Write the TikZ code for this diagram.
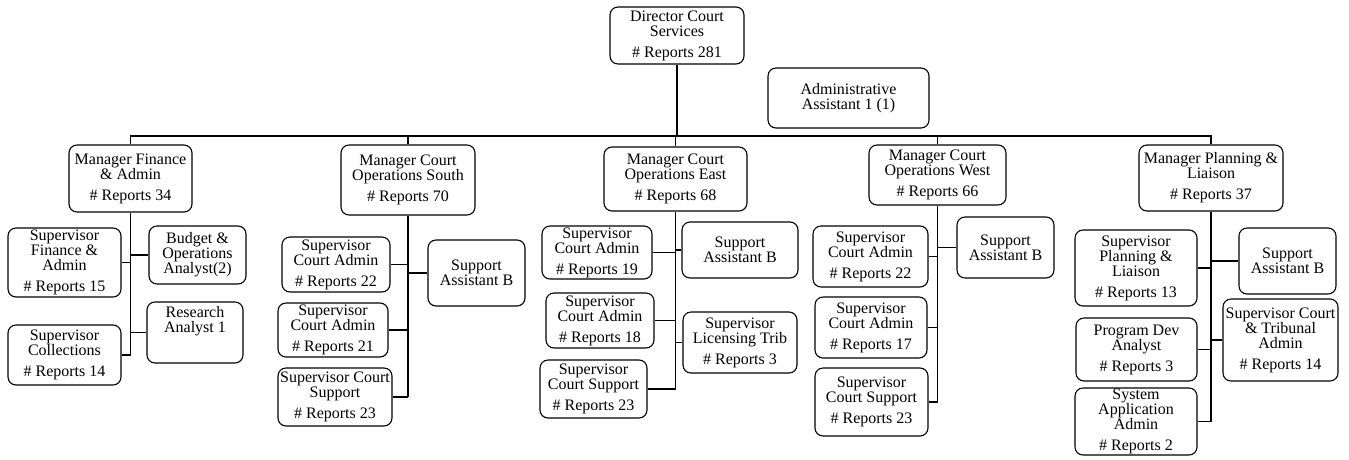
\documentclass[tikz,border=0pt]{standalone}
\usepackage{fontspec}
\setmainfont{Liberation Serif}
\tikzset{
  posbox/.style={draw, rounded corners=8pt, line width=1.1pt, align=center, inner sep=0pt,
    font=\fontsize{16}{15}\selectfont},
  link/.style={line width=1.1pt}
}

\begin{document}
\begin{tikzpicture}[x=1pt, y=-1pt]
\useasboundingbox (0,0) rectangle (1349,459);
\node[posbox, minimum width=134pt, minimum height=57pt] (dir) at (677,35.5) {Director Court\\Services\\[6pt]\# Reports 281};
\node[posbox, minimum width=161pt, minimum height=60pt] (adm) at (848.5,98) {Administrative\\Assistant 1 (1)};

\node[posbox, minimum width=123pt, minimum height=67pt] (mfin) at (130.5,178.5) {Manager Finance\\\& Admin\\[6pt]\# Reports 34};
\node[posbox, minimum width=113pt, minimum height=69pt] (fin1) at (64.5,262.5) {Supervisor\\Finance \&\\Admin\\[6pt]\# Reports 15};
\node[posbox, minimum width=113pt, minimum height=60pt] (fin2) at (64.5,355) {Supervisor\\Collections\\[6pt]\# Reports 14};
\node[posbox, minimum width=97pt, minimum height=58pt] (fin3) at (197.5,255) {Budget \&\\Operations\\Analyst(2)};
\node[posbox, minimum width=96pt, minimum height=61pt] (fin4) at (195,332.5) {Research\\Analyst 1\\[6pt]\strut};

\node[posbox, minimum width=134pt, minimum height=70pt] (msou) at (408,180) {Manager Court\\Operations South\\[6pt]\# Reports 70};
\node[posbox, minimum width=108pt, minimum height=55pt] (sou1) at (336,264.5) {Supervisor\\Court Admin\\[6pt]\# Reports 22};
\node[posbox, minimum width=110pt, minimum height=54pt] (sou2) at (333,330) {Supervisor\\Court Admin\\[6pt]\# Reports 21};
\node[posbox, minimum width=114pt, minimum height=58pt] (sou3) at (335,397) {Supervisor Court\\Support\\[6pt]\# Reports 23};
\node[posbox, minimum width=97pt, minimum height=66pt] (sou4) at (476.5,273) {Support\\Assistant B};

\node[posbox, minimum width=143pt, minimum height=64pt] (meas) at (675.5,179) {Manager Court\\Operations East\\[6pt]\# Reports 68};
\node[posbox, minimum width=110pt, minimum height=53pt] (eas1) at (597,252.5) {Supervisor\\Court Admin\\[6pt]\# Reports 19};
\node[posbox, minimum width=108pt, minimum height=55pt] (eas2) at (600,320.5) {Supervisor\\Court Admin\\[6pt]\# Reports 18};
\node[posbox, minimum width=107pt, minimum height=58pt] (eas3) at (593.5,389) {Supervisor\\Court Support\\[6pt]\# Reports 23};
\node[posbox, minimum width=116pt, minimum height=56pt] (eas4) at (740,250) {Support\\Assistant B};
\node[posbox, minimum width=114pt, minimum height=61pt] (eas5) at (740,342.5) {Supervisor\\Licensing Trib\\[6pt]\# Reports 3};

\node[posbox, minimum width=137pt, minimum height=60pt] (mwes) at (937.5,175) {Manager Court\\Operations West\\[6pt]\# Reports 66};
\node[posbox, minimum width=115pt, minimum height=61pt] (wes1) at (870.5,256.5) {Supervisor\\Court Admin\\[6pt]\# Reports 22};
\node[posbox, minimum width=112pt, minimum height=61pt] (wes2) at (871,327.5) {Supervisor\\Court Admin\\[6pt]\# Reports 17};
\node[posbox, minimum width=113pt, minimum height=68pt] (wes3) at (871.5,402) {Supervisor\\Court Support\\[6pt]\# Reports 23};
\node[posbox, minimum width=97pt, minimum height=61pt] (wes4) at (1005.5,247.5) {Support\\Assistant B};

\node[posbox, minimum width=144pt, minimum height=66pt] (mpla) at (1211,178) {Manager Planning \&\\Liaison\\[6pt]\# Reports 37};
\node[posbox, minimum width=122pt, minimum height=76pt] (pla1) at (1136,268) {Supervisor\\Planning \&\\Liaison\\[6pt]\# Reports 13};
\node[posbox, minimum width=121pt, minimum height=63pt] (pla2) at (1136.5,349.5) {Program Dev\\Analyst\\[6pt]\# Reports 3};
\node[posbox, minimum width=122pt, minimum height=67pt] (pla3) at (1136,421.5) {System\\Application\\Admin\\[6pt]\# Reports 2};
\node[posbox, minimum width=97pt, minimum height=66pt] (pla4) at (1287.5,261) {Support\\Assistant B};
\node[posbox, minimum width=115pt, minimum height=82pt] (pla5) at (1280.5,340) {Supervisor Court\\\& Tribunal\\Admin\\[6pt]\# Reports 14};

\coordinate (bus) at (677,136);
\draw[link] (dir.south) -- (bus);
\draw[link] (mfin.north) |- (bus) -| (mpla.north);
\foreach \m in {msou, meas, mwes}
  \draw[link] (\m.north) -- (\m.north |- bus);

\draw[link] (mfin.south) -- (mfin.south |- fin2.east);
\foreach \c in {fin1, fin2}
  \draw[link] (\c.east) -- (\c.east -| mfin.south);
\foreach \c in {fin3, fin4}
  \draw[link] (\c.west) -- (\c.west -| mfin.south);

\draw[link] (msou.south) -- (msou.south |- sou3.east);
\foreach \c in {sou1, sou2, sou3}
  \draw[link] (\c.east) -- (\c.east -| msou.south);
\draw[link] (sou4.west) -- (sou4.west -| msou.south);

\draw[link] (meas.south) -- (meas.south |- eas3.east);
\foreach \c in {eas1, eas2, eas3}
  \draw[link] (\c.east) -- (\c.east -| meas.south);
\foreach \c in {eas4, eas5}
  \draw[link] (\c.west) -- (\c.west -| meas.south);

\draw[link] (mwes.south) -- (mwes.south |- wes3.east);
\foreach \c in {wes1, wes2, wes3}
  \draw[link] (\c.east) -- (\c.east -| mwes.south);
\draw[link] (wes4.west) -- (wes4.west -| mwes.south);

\draw[link] (mpla.south) -- (mpla.south |- pla3.east);
\foreach \c in {pla1, pla2, pla3}
  \draw[link] (\c.east) -- (\c.east -| mpla.south);
\foreach \c in {pla4, pla5}
  \draw[link] (\c.west) -- (\c.west -| mpla.south);
\end{tikzpicture}
\end{document}
